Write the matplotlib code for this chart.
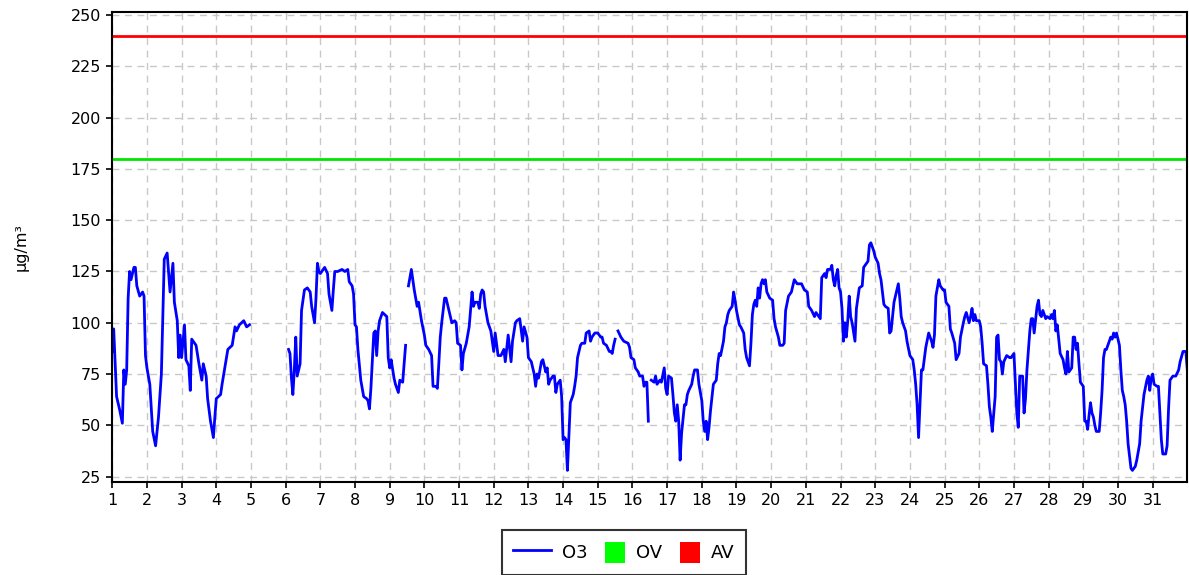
import numpy as np
import matplotlib
matplotlib.use("Agg")
import matplotlib.pyplot as plt
from matplotlib.lines import Line2D
from matplotlib.patches import Patch, Rectangle
from matplotlib.legend_handler import HandlerPatch

nan = np.nan

# hourly O3 readings: (hours since day 1 00:00, value in ug/m3); nan = missing data
o3_readings = [
    (0, 86), (1, 97), (3, 64), (5, 58), (7, 51), (8, 77), (9, 70), (10, 77), (11, 112),
    (12, 125), (13, 121), (15, 127), (16, 127), (17, 118), (19, 113), (21, 115), (22, 113),
    (23, 84), (24, 78), (26, 70), (28, 47), (30, 40), (32, 54), (34, 75), (35, 103),
    (36, 131), (38, 134), (40, 115), (42, 129), (43, 110), (45, 101), (46, 83), (47, 94),
    (48, 83), (50, 99), (51, 82), (53, 79), (54, 67), (55, 92), (58, 89), (60, 80),
    (62, 72), (63, 80), (65, 74), (66, 63), (68, 52), (70, 44), (71, 54), (72, 63),
    (75, 65), (76, 70), (80, 87), (83, 89), (85, 98), (86, 96), (88, 99), (91, 101),
    (93, 98), (95, 99), (96, nan),
    (122, 87), (123, 85), (124, 73), (125, 65), (126, 77), (127, 93), (128, 74), (130, 80),
    (131, 106), (133, 116), (135, 117), (137, 115), (138, 108), (140, 100), (141, 112),
    (142, 129), (143, 125), (144, 124), (146, 126), (147, 127), (149, 124), (150, 114),
    (152, 106), (153, 116), (154, 125), (156, 125), (159, 126), (161, 125), (163, 126),
    (164, 120), (166, 118), (167, 114), (168, 99), (169, 98), (170, 87), (172, 72),
    (174, 64), (176, 63), (177, 62), (178, 58), (179, 68), (180, 81), (181, 95), (182, 96),
    (183, 84), (184, 96), (185, 101), (187, 105), (190, 103), (191, 83), (192, 78),
    (193, 82), (195, 73), (196, 70), (198, 66), (199, 72), (201, 71), (203, 89), (204, nan),
    (205, 118), (207, 126), (209, 116), (211, 108), (212, 110), (214, 101), (216, 94),
    (217, 89), (219, 87), (221, 84), (222, 69), (224, 69), (225, 68), (226, 80), (227, 93),
    (228, 100), (230, 112), (231, 112), (233, 106), (235, 100), (237, 101), (238, 100),
    (239, 90), (241, 89), (242, 77), (243, 85), (245, 90), (247, 98), (249, 115), (250, 108),
    (251, 110), (253, 110), (254, 107), (255, 114), (256, 116), (257, 115), (258, 108),
    (260, 100), (262, 96), (263, 91), (264, 86), (265, 95), (267, 84), (269, 84), (271, 87),
    (272, 81), (274, 94), (276, 81), (277, 91), (279, 100), (280, 101), (282, 102),
    (284, 91), (285, 98), (287, 93), (288, 83), (290, 81), (292, 75), (293, 69), (294, 75),
    (295, 73), (297, 81), (298, 82), (300, 76), (301, 78), (302, 70), (303, 72), (305, 74),
    (306, 74), (307, 66), (308, 70), (310, 72), (311, 64), (312, 43), (313, 44), (314, 43),
    (315, 28), (316, 44), (317, 61), (319, 65), (320, 69), (321, 74), (322, 83), (324, 89),
    (325, 90), (327, 90), (328, 95), (330, 96), (331, 91), (332, 93), (334, 95), (336, 95),
    (338, 93), (339, 93), (340, 90), (342, 89), (344, 86), (345, 86), (346, 85), (347, 89),
    (348, 92), (349, nan),
    (350, 96), (352, 93), (354, 91), (357, 90), (358, 88), (359, 83), (361, 82), (362, 78),
    (364, 76), (365, 74), (367, 74), (368, 69), (369, 71), (370, 71), (371, 52), (372, nan),
    (373, 72), (375, 71), (376, 74), (377, 70), (379, 72), (380, 71), (382, 78), (383, 68),
    (384, 65), (385, 74), (387, 73), (388, 65), (389, 56), (390, 52), (391, 60), (392, 52),
    (393, 33), (394, 46), (396, 60), (397, 60), (398, 65), (399, 67), (401, 70), (402, 74),
    (403, 77), (405, 77), (406, 70), (408, 62), (409, 52), (410, 47), (411, 52), (412, 43),
    (413, 49), (414, 57), (416, 70), (417, 71), (418, 72), (419, 80), (420, 85), (421, 84),
    (423, 91), (424, 98), (425, 100), (426, 104), (427, 106), (429, 108), (430, 115),
    (431, 111), (432, 106), (434, 99), (435, 98), (437, 95), (438, 87), (439, 83), (441, 79),
    (442, 90), (443, 104), (444, 109), (445, 111), (446, 108), (447, 117), (448, 112),
    (449, 119), (450, 121), (451, 119), (452, 121), (453, 115), (455, 112), (457, 111),
    (458, 102), (459, 98), (461, 93), (462, 89), (464, 89), (465, 90), (466, 106), (468, 113),
    (470, 115), (472, 121), (474, 119), (477, 119), (479, 116), (481, 115), (482, 108),
    (484, 106), (486, 103), (487, 105), (488, 104), (490, 102), (491, 122), (493, 124),
    (494, 122), (495, 126), (497, 126), (498, 128), (499, 121), (500, 118), (501, 123),
    (502, 126), (503, 117), (504, 115), (505, 107), (506, 91), (507, 100), (508, 93),
    (509, 101), (510, 113), (511, 103), (512, 100), (514, 91), (515, 107), (517, 117),
    (519, 118), (520, 127), (522, 129), (523, 130), (524, 138), (525, 139), (527, 135),
    (528, 132), (530, 129), (531, 124), (532, 121), (534, 109), (535, 108), (537, 107),
    (538, 95), (539, 96), (540, 103), (541, 110), (543, 116), (544, 119), (545, 112),
    (546, 103), (547, 100), (549, 96), (550, 91), (552, 84), (554, 82), (555, 77), (556, 70),
    (557, 60), (558, 44), (560, 77), (561, 77), (563, 88), (565, 95), (567, 91), (568, 88),
    (569, 94), (570, 113), (572, 121), (573, 118), (575, 116), (576, 116), (577, 110),
    (579, 108), (580, 97), (581, 95), (583, 90), (584, 82), (586, 85), (587, 93), (589, 100),
    (590, 103), (591, 105), (593, 100), (594, 103), (595, 107), (596, 101), (597, 104),
    (598, 101), (600, 101), (601, 98), (602, 90), (603, 80), (605, 79), (606, 70), (607, 59),
    (608, 54), (609, 47), (611, 64), (612, 93), (613, 94), (614, 82), (615, 81), (616, 75),
    (617, 81), (619, 84), (621, 83), (622, 83), (624, 85), (625, 70), (626, 56), (627, 49),
    (628, 74), (630, 74), (631, 56), (632, 63), (633, 77), (635, 96), (636, 102), (637, 102),
    (638, 95), (640, 108), (641, 111), (642, 104), (643, 103), (644, 106), (646, 102),
    (647, 103), (649, 102), (650, 104), (651, 102), (652, 106), (653, 96), (654, 99),
    (656, 85), (658, 82), (659, 78), (660, 75), (661, 86), (662, 76), (664, 78), (665, 93),
    (666, 93), (667, 87), (668, 90), (669, 80), (670, 71), (672, 69), (673, 52), (674, 52),
    (675, 48), (676, 55), (677, 61), (678, 56), (679, 54), (680, 50), (681, 47), (683, 47),
    (684, 56), (685, 67), (686, 83), (687, 87), (688, 87), (690, 91), (691, 93), (692, 92),
    (693, 95), (694, 93), (695, 95), (697, 89), (698, 77), (699, 67), (700, 64), (701, 60),
    (702, 52), (703, 41), (705, 29), (706, 28), (708, 30), (709, 33), (711, 41), (712, 52),
    (714, 65), (716, 72), (717, 74), (718, 67), (719, 73), (720, 75), (721, 70), (723, 69),
    (724, 69), (725, 56), (726, 43), (727, 36), (729, 36), (730, 40), (731, 58), (732, 72),
    (734, 74), (736, 74), (738, 77), (739, 81), (741, 86), (743, 86), (744, 77),
]

ov_limit = 180   # OV threshold
av_limit = 240   # AV threshold
day_ticks = list(range(1, 32))
y_ticks = list(range(25, 251, 25))

hours, o3 = zip(*o3_readings)
days = 1 + np.array(hours) / 24.0
o3 = np.array(o3, dtype=float)

fig = plt.figure(figsize=(11.89, 5.75), dpi=100)
ax = fig.add_axes([0.0944, 0.1623, 0.9042, 0.8174])

ax.axhline(ov_limit, color="#00e600", lw=2)
ax.axhline(av_limit, color="#ff0000", lw=2)
ax.plot(days, o3, color="#0000ff", lw=2)

ax.set_xlim(1, 32)
ax.set_ylim(22.5, 251.7)
ax.set_xticks(day_ticks)
ax.set_yticks(y_ticks)
ax.tick_params(labelsize=11.5, length=4, width=1.2, direction="out", pad=4)
ax.grid(True, color="#c8c8c8", ls=(0, (5, 4)), lw=1)
ax.set_axisbelow(True)
for s in ax.spines.values():
    s.set_linewidth(1.5)
ax.set_ylabel("µg/m³", fontsize=11.5, labelpad=30)


# small square swatch, pushed to the right of the handle box
def square(legend, orig_handle, xdescent, ydescent, width, height, fontsize):
    side = 15
    return Rectangle((width - side - xdescent, height / 2 - side / 2 - ydescent),
                     side, side)


handles = [Line2D([0], [0], color="#0000ff", lw=2),
           Patch(facecolor="#00ff00", edgecolor="none"),
           Patch(facecolor="#ff0000", edgecolor="none")]
leg = fig.legend(handles, ["O3", "OV", "AV"], ncol=3, loc="upper center",
                 bbox_to_anchor=(0.5248, 0.0783), borderaxespad=0,
                 fontsize=13, frameon=True, fancybox=False, edgecolor="black",
                 handlelength=2.1, handleheight=1.6, columnspacing=0.0,
                 handletextpad=0.6, borderpad=0.6,
                 handler_map={Patch: HandlerPatch(patch_func=square)})
leg.get_frame().set_linewidth(1.5)

fig.savefig("out.png", dpi=100)
